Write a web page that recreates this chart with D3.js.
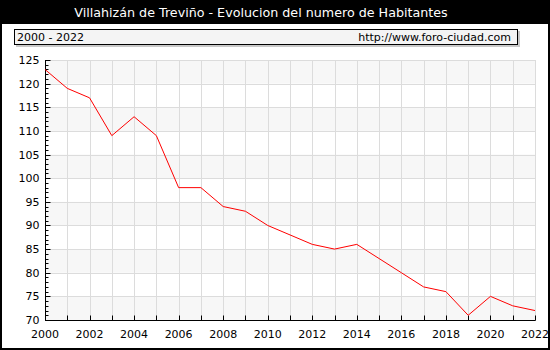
<!DOCTYPE html>
<html>
<head>
<meta charset="utf-8">
<script src="https://cdn.jsdelivr.net/npm/d3@7"></script>
<style>
  html, body { margin: 0; padding: 0; background: #fff; }
  svg { display: block; font-family: "DejaVu Sans", Verdana, sans-serif; }
</style>
</head>
<body>
<svg id="chart" width="550" height="350"></svg>
<script>
// Population of Villahizán de Treviño, 2000-2022
const years = [2000, 2001, 2002, 2003, 2004, 2005, 2006, 2007, 2008, 2009, 2010, 2011,
               2012, 2013, 2014, 2015, 2016, 2017, 2018, 2019, 2020, 2021, 2022];
const habitantes = [123, 119, 117, 109, 113, 109, 98, 98, 94, 93, 90, 88,
                    86, 85, 86, 83, 80, 77, 76, 71, 75, 73, 72];
const yTicks = [70, 75, 80, 85, 90, 95, 100, 105, 110, 115, 120, 125];
const xLabelYears = [2000, 2002, 2004, 2006, 2008, 2010, 2012, 2014, 2016, 2018, 2020, 2022];

const titleText = "Villahizán de Treviño - Evolucion del numero de Habitantes";
const periodText = "2000 - 2022";
const sourceText = "http://www.foro-ciudad.com";

const W = 550, H = 350;
const svg = d3.select("#chart");

// frame: black background, white body
svg.append("rect").attr("x", 0).attr("y", 0).attr("width", W).attr("height", H).attr("fill", "#000");
svg.append("rect").attr("x", 2).attr("y", 24).attr("width", W - 4).attr("height", H - 26).attr("fill", "#fff");

svg.append("text")
  .attr("x", 261).attr("y", 17)
  .attr("text-anchor", "middle")
  .attr("fill", "#fff")
  .attr("font-size", 12.7)
  .text(titleText);

// subtitle box with shadow
svg.append("rect").attr("x", 16).attr("y", 31).attr("width", 504).attr("height", 16).attr("fill", "#c8c8c8");
svg.append("rect").attr("x", 14.5).attr("y", 29.5).attr("width", 503).attr("height", 15)
  .attr("fill", "#f4f4f4").attr("stroke", "#000").attr("stroke-width", 1);
svg.append("text").attr("x", 17).attr("y", 41).attr("font-size", 11).attr("fill", "#000").text(periodText);
svg.append("text").attr("x", 511).attr("y", 41).attr("font-size", 11).attr("fill", "#000")
  .attr("text-anchor", "end").text(sourceText);

// scales
const x = d3.scaleLinear().domain([2000, 2022]).range([45, 535]);
const y = d3.scaleLinear().domain([70, 125]).range([320, 60]);

// alternating horizontal bands
const bands = d3.range(70, 125, 10);
svg.append("g").selectAll("rect").data(bands).join("rect")
  .attr("x", x(2000)).attr("width", x(2022) - x(2000))
  .attr("y", d => y(d + 5)).attr("height", d => y(d) - y(d + 5))
  .attr("fill", "#f7f7f7");

// grid
const grid = svg.append("g").attr("stroke", "#dcdcdc").attr("stroke-width", 1);
grid.selectAll("line.v").data(years).join("line").attr("class", "v")
  .attr("x1", d => Math.round(x(d)) + 0.5).attr("x2", d => Math.round(x(d)) + 0.5)
  .attr("y1", y(125)).attr("y2", y(70));
grid.selectAll("line.h").data(yTicks).join("line").attr("class", "h")
  .attr("x1", x(2000)).attr("x2", x(2022))
  .attr("y1", d => Math.round(y(d)) + 0.5).attr("y2", d => Math.round(y(d)) + 0.5);

// y axis: ticks point into the plot, minor tick every unit
const yAxisG = svg.append("g").attr("transform", `translate(${Math.round(x(2000)) + 0.5},0)`);
yAxisG.append("line").attr("y1", y(125)).attr("y2", y(70) + 0.5).attr("stroke", "#000");
yAxisG.selectAll("line.minor").data(d3.range(70, 126)).join("line").attr("class", "minor")
  .attr("x1", 0).attr("x2", d => d % 5 === 0 ? 5 : 3)
  .attr("y1", d => Math.round(y(d)) + 0.5).attr("y2", d => Math.round(y(d)) + 0.5)
  .attr("stroke", "#000");
yAxisG.selectAll("text").data(yTicks).join("text")
  .attr("x", -6).attr("y", d => y(d) + 4)
  .attr("text-anchor", "end").attr("font-size", 11).attr("fill", "#000")
  .text(d => d);

// x axis: ticks every year pointing up, labels every two years
const xAxisG = svg.append("g").attr("transform", `translate(0,${Math.round(y(70)) + 0.5})`);
xAxisG.append("line").attr("x1", x(2000)).attr("x2", x(2022) + 0.5).attr("stroke", "#000");
xAxisG.selectAll("line.tick").data(years).join("line").attr("class", "tick")
  .attr("x1", d => Math.round(x(d)) + 0.5).attr("x2", d => Math.round(x(d)) + 0.5)
  .attr("y1", 0).attr("y2", -5).attr("stroke", "#000");
xAxisG.selectAll("text").data(xLabelYears).join("text")
  .attr("x", d => x(d)).attr("y", 17)
  .attr("text-anchor", "middle").attr("font-size", 11).attr("fill", "#000")
  .text(d => d);

// population line
const line = d3.line().x((d, i) => x(years[i])).y(d => y(d));
svg.append("path").datum(habitantes)
  .attr("d", line)
  .attr("fill", "none").attr("stroke", "#ff0000").attr("stroke-width", 1);
</script>
</body>
</html>
